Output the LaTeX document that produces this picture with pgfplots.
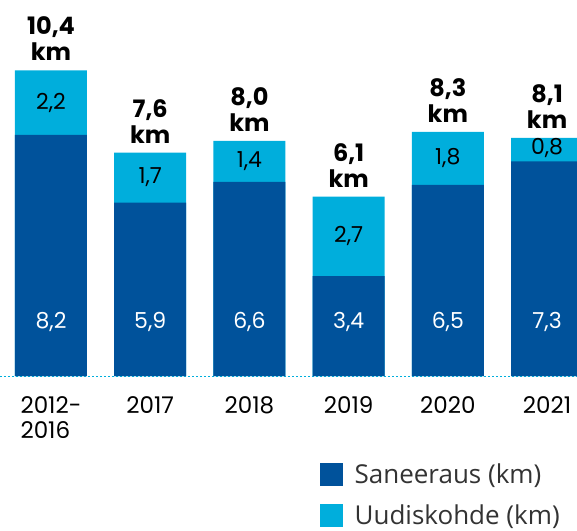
\documentclass[border=0pt]{standalone}
\usepackage{fontspec}
\setmainfont{Poppins}
\newfontfamily\legfont{Open Sans}
\usepackage{pgfplots}
\pgfplotsset{compat=1.18}
\definecolor{dblue}{HTML}{00529B}
\definecolor{lblue}{HTML}{00AEDC}
\definecolor{leggray}{HTML}{333333}
\begin{document}
\begin{tikzpicture}
\begin{axis}[
    scale only axis,
    width=577pt, height=376pt,
    xmin=-0.514, xmax=5.302,
    ymin=0, ymax=12.79,
    axis x line*=bottom,
    axis y line=none,
    x axis line style={draw=lblue, line width=0.8pt, dash pattern=on 2pt off 2pt, -},
    xtick={0,1,2,3,4,5},
    xticklabels={{2012-\\2016},2017,2018,2019,2020,2021},
    xticklabel style={align=left, font=\fontsize{23}{25}\selectfont, anchor=north, yshift=-17pt},
    major tick length=0pt,
    /pgf/number format/assume math mode=true,
    /pgf/number format/.cd, use comma, fixed, fixed zerofill, precision=1,
    /pgfplots/.cd,
    clip=true,
    legend style={draw=none, fill=none, at={(rel axis cs:0.5546,-0.231)}, anchor=north west,
        font=\legfont\fontsize{26}{28}\selectfont\color{leggray},
        row sep=17pt, column sep=11pt, inner sep=0pt, nodes={inner sep=1pt}},
    legend cell align=left,
]
% Uudiskohde on top: drawn as full total height first
\addplot[ybar, bar width=72pt, bar shift=0pt, fill=lblue, draw=none, forget plot]
    coordinates {(0,10.4) (1,7.6) (2,8.0) (3,6.1) (4,8.3) (5,8.1)};
% Saneeraus
\addplot[ybar, bar width=72pt, bar shift=0pt, fill=dblue, draw=none, forget plot]
    coordinates {(0,8.2) (1,5.9) (2,6.6) (3,3.4) (4,6.5) (5,7.3)};

% labels in the dark segments
\addplot[draw=none, mark=none, forget plot, point meta=explicit,
    nodes near coords, nodes near coords style={anchor=center, text=white, font=\fontsize{22}{24}\selectfont}]
    coordinates {(0,1.84)[8.2] (1,1.84)[5.9] (2,1.84)[6.6] (3,1.84)[3.4] (4,1.84)[6.5] (5,1.84)[7.3]};
% labels in the light segments
\addplot[draw=none, mark=none, forget plot, point meta=explicit,
    nodes near coords, nodes near coords style={anchor=center, text=black, font=\fontsize{22}{24}\selectfont}]
    coordinates {(0,9.3)[2.2] (1,6.75)[1.7] (2,7.3)[1.4] (3,4.75)[2.7] (4,7.4)[1.8] (5,7.75)[0.8]};
% totals
\addplot[draw=none, mark=none, forget plot, point meta=y,
    nodes near coords={\pgfmathprintnumber{\pgfplotspointmeta}\\km},
    nodes near coords style={anchor=south, align=center, text=black, yshift=6pt,
        font=\bfseries\fontsize{24}{26}\selectfont}]
    coordinates {(0,10.4) (1,7.6) (2,8.0) (3,6.1) (4,8.3) (5,8.1)};

\addlegendimage{legend image code/.code={\fill[dblue] (0pt,-11pt) rectangle (22pt,11pt);}}
\addlegendentry{Saneeraus (km)}
\addlegendimage{legend image code/.code={\fill[lblue] (0pt,-11pt) rectangle (22pt,11pt);}}
\addlegendentry{Uudiskohde (km)}
\end{axis}
\pgfresetboundingbox
\path (0pt,-154pt) rectangle (577pt,376pt);
\end{tikzpicture}
\end{document}
